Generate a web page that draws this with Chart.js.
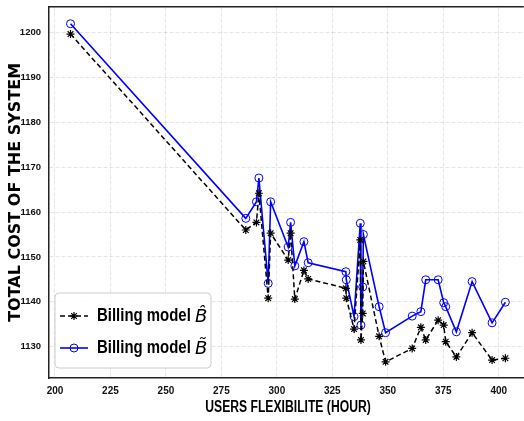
<!DOCTYPE html>
<html>
<head>
<meta charset="utf-8">
<script src="https://cdn.jsdelivr.net/npm/chart.js@4.4.1/dist/chart.umd.min.js"></script>
<style>
    html, body { margin: 0; padding: 0; background: #ffffff; overflow: hidden; }
    #chart { display: block; position: absolute; left: 0; top: -7px; }
</style>
</head>
<body>
<canvas id="chart" width="529" height="428"></canvas>
<script>
// users flexibility (hours) shared by both billing models
const userHours = [207, 286, 290.8, 291.9, 296.1, 297.2, 305.1, 306.2, 308.1, 312.2,
    314.1, 331.1, 331.3, 334.8, 337.6, 337.9, 338.7, 339.0, 346.1, 349.0,
    361.0, 364.9, 367.1, 372.7, 375.2, 376.1, 380.9, 388.0, 397.0, 403.0];

// billing model B-hat (black dashed, stars)
const costHat = [1199.7, 1156.0, 1157.7, 1164.2, 1140.8, 1155.3, 1149.3, 1155.3, 1140.6, 1147.0,
    1145.1, 1143.0, 1140.8, 1133.9, 1153.8, 1131.5, 1137.4, 1149.0, 1132.3, 1126.6,
    1129.6, 1134.3, 1131.5, 1135.9, 1134.8, 1131.1, 1127.7, 1133.1, 1127.0, 1127.4];

// billing model B-tilde (blue solid, circles)
const costTilde = [1202.0, 1158.6, 1162.3, 1167.6, 1144.1, 1162.3, 1152.2, 1157.7, 1148.0, 1153.4,
    1148.7, 1146.7, 1144.9, 1136.7, 1157.5, 1134.8, 1143.3, 1155.0, 1138.9, 1133.1,
    1136.8, 1137.8, 1144.9, 1144.9, 1139.8, 1138.9, 1133.3, 1144.5, 1135.3, 1139.9];

const xTicks = [200, 225, 250, 275, 300, 325, 350, 375, 400];
const yTicks = [1130, 1140, 1150, 1160, 1170, 1180, 1190, 1200];

const xTitle = 'USERS FLEXIBILITE (HOUR)';
const yTitle = 'TOTAL COST OF THE SYSTEM';
const legendLabels = ['Billing model ', 'Billing model '];
const legendSymbols = ['B\u0302', 'B\u0303'];

const sansFont = "'Liberation Sans', Arial, sans-serif";

function toPoints(xs, ys) {
    return xs.map((x, i) => ({ x: x, y: ys[i] }));
}

// narrow bold text: the original uses a condensed face, squeeze it horizontally
function narrowText(ctx, text, x, y, size, squeeze) {
    ctx.save();
    ctx.translate(x, y);
    ctx.scale(squeeze, 1);
    ctx.font = 'bold ' + size + 'px ' + sansFont;
    ctx.fillText(text, 0, 0);
    const w = ctx.measureText(text).width * squeeze;
    ctx.restore();
    return w;
}

const frameAndLegend = {
    id: 'frameAndLegend',
    afterDatasetsDraw(chart) {
        const { ctx, chartArea } = chart;
        ctx.save();
        // top spine
        ctx.strokeStyle = '#222';
        ctx.lineWidth = 1.5;
        ctx.beginPath();
        ctx.moveTo(chartArea.left, chartArea.top);
        ctx.lineTo(chartArea.right, chartArea.top);
        ctx.stroke();

        // x title
        ctx.fillStyle = '#000';
        ctx.textBaseline = 'middle';
        ctx.textAlign = 'center';
        narrowText(ctx, xTitle, 288, chartArea.bottom + 30, 16, 0.76);

        // legend box
        const bx = chartArea.left + 6;
        const by = chartArea.bottom - 85;
        const bw = 156;
        const bh = 75;
        ctx.fillStyle = 'rgba(255,255,255,0.85)';
        ctx.strokeStyle = '#cccccc';
        ctx.lineWidth = 1;
        ctx.beginPath();
        ctx.roundRect(bx, by, bw, bh, 4);
        ctx.fill();
        ctx.stroke();

        const rows = [by + 23, by + 55];
        chart.data.datasets.forEach((ds, i) => {
            const y = rows[i];
            ctx.strokeStyle = ds.borderColor;
            ctx.lineWidth = ds.borderWidth;
            ctx.setLineDash(ds.borderDash || []);
            ctx.beginPath();
            ctx.moveTo(bx + 5, y);
            ctx.lineTo(bx + 33, y);
            ctx.stroke();
            ctx.setLineDash([]);
            ctx.strokeStyle = ds.pointBorderColor;
            ctx.fillStyle = 'rgba(0,0,0,0)';
            ctx.lineWidth = ds.pointBorderWidth;
            Chart.helpers.drawPoint(ctx, {
                pointStyle: ds.pointStyle,
                radius: ds.pointRadius,
                borderWidth: ds.pointBorderWidth
            }, bx + 19, y);

            ctx.fillStyle = '#000';
            ctx.textBaseline = 'middle';
            ctx.textAlign = 'left';
            const w = narrowText(ctx, legendLabels[i], bx + 42, y, 18, 0.83);
            ctx.font = "italic 18px 'DejaVu Sans', sans-serif";
            ctx.fillText(legendSymbols[i], bx + 42 + w, y + 1);
        });
        ctx.restore();
    }
};

function renderChart() {
    const canvas = document.getElementById('chart');

    const datasets = [
        {
            label: 'Billing model B\u0302',
            data: toPoints(userHours, costHat),
            showLine: true,
            borderColor: '#000000',
            backgroundColor: '#000000',
            borderWidth: 1.5,
            borderDash: [5, 3],
            pointStyle: 'star',
            pointRadius: 4,
            pointBorderWidth: 1.2,
            pointBorderColor: '#000000'
        },
        {
            label: 'Billing model B\u0303',
            data: toPoints(userHours, costTilde),
            showLine: true,
            borderColor: '#0000ff',
            backgroundColor: 'rgba(0,0,0,0)',
            borderWidth: 1.6,
            pointStyle: 'circle',
            pointRadius: 4,
            pointBorderWidth: 1,
            pointBorderColor: '#0000ff',
            pointBackgroundColor: 'rgba(0,0,0,0)'
        }
    ];

    const config = {
        type: 'scatter',
        data: { datasets },
        options: {
            responsive: false,
            animation: false,
            layout: { padding: 0 },
            plugins: {
                legend: { display: false },
                tooltip: { enabled: false }
            },
            scales: {
                x: {
                    type: 'linear',
                    min: 197.3,
                    max: 411.3,
                    afterBuildTicks: (axis) => { axis.ticks = xTicks.map(v => ({ value: v })); },
                    afterFit: (axis) => { axis.height = 43; },
                    grid: { color: 'rgba(0,0,0,0.1)', drawTicks: false },
                    border: { color: '#222', width: 1.5, dash: [4, 2] },
                    ticks: {
                        color: '#111',
                        padding: 7,
                        callback: (v) => String(v),
                        font: { family: sansFont, size: 10, weight: 'bold' }
                    }
                },
                y: {
                    type: 'linear',
                    min: 1123.0,
                    max: 1205.8,
                    afterBuildTicks: (axis) => { axis.ticks = yTicks.map(v => ({ value: v })); },
                    afterFit: (axis) => { axis.width = 49; },
                    grid: { color: 'rgba(0,0,0,0.1)', drawTicks: false },
                    border: { color: '#222', width: 1.5, dash: [4, 2] },
                    ticks: {
                        color: '#111',
                        padding: 8,
                        callback: (v) => String(v),
                        font: { family: sansFont, size: 9.5, weight: 'bold' }
                    },
                    title: {
                        display: true,
                        text: yTitle,
                        color: '#000',
                        padding: { top: 6.5, bottom: 0 },
                        font: { family: "'DejaVu Sans', sans-serif", size: 16, weight: 'bold' }
                    }
                }
            }
        },
        plugins: [frameAndLegend]
    };

    new Chart(canvas, config);
}

renderChart();
</script>
</body>
</html>
